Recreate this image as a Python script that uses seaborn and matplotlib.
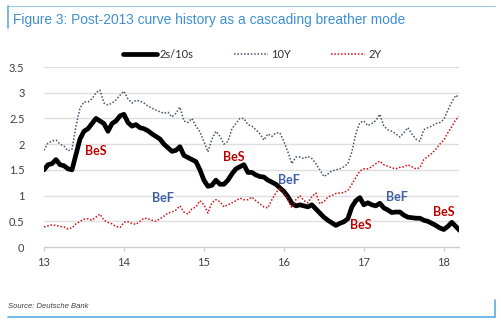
import numpy as np
import pandas as pd
import matplotlib
matplotlib.use("Agg")
import matplotlib.pyplot as plt
from matplotlib.lines import Line2D
import seaborn as sns

# Time axis in fractional years (13 = 2013)
years = np.round(np.arange(13.0, 18.2001, 0.05), 2)

spread_2s10s = [
    1.50, 1.60, 1.62, 1.70, 1.60, 1.58, 1.52, 1.50, 1.80, 2.10,
    2.25, 2.30, 2.40, 2.50, 2.45, 2.40, 2.25, 2.40, 2.45, 2.55,
    2.58, 2.42, 2.35, 2.38, 2.32, 2.30, 2.26, 2.20, 2.15, 2.10,
    2.00, 1.93, 1.86, 1.88, 1.95, 1.78, 1.74, 1.70, 1.66, 1.50,
    1.30, 1.18, 1.20, 1.30, 1.22, 1.22, 1.30, 1.42, 1.52, 1.56,
    1.60, 1.45, 1.45, 1.40, 1.37, 1.36, 1.30, 1.26, 1.22, 1.15,
    1.08, 0.98, 0.85, 0.80, 0.82, 0.80, 0.78, 0.82, 0.74, 0.66,
    0.58, 0.52, 0.47, 0.42, 0.46, 0.49, 0.55, 0.78, 0.90, 0.96,
    0.82, 0.86, 0.82, 0.80, 0.85, 0.76, 0.72, 0.67, 0.68, 0.68,
    0.62, 0.58, 0.57, 0.56, 0.56, 0.52, 0.50, 0.46, 0.42, 0.37,
    0.34, 0.40, 0.48, 0.40, 0.32,
]

yield_10y = [
    1.88, 2.02, 2.06, 2.08, 2.00, 1.96, 1.87, 1.90, 2.35, 2.70,
    2.82, 2.82, 2.88, 3.00, 3.05, 2.80, 2.76, 2.80, 2.86, 2.95,
    3.03, 2.88, 2.80, 2.85, 2.84, 2.80, 2.74, 2.70, 2.66, 2.63,
    2.60, 2.62, 2.53, 2.60, 2.72, 2.45, 2.42, 2.50, 2.35, 2.24,
    2.05, 1.85, 2.10, 2.25, 2.15, 2.00, 2.05, 2.30, 2.40, 2.50,
    2.50, 2.38, 2.35, 2.28, 2.20, 2.08, 2.20, 2.15, 2.22, 2.22,
    2.05, 1.85, 1.62, 1.75, 1.75, 1.72, 1.76, 1.72, 1.62, 1.50,
    1.37, 1.42, 1.48, 1.50, 1.52, 1.56, 1.62, 1.85, 2.20, 2.42,
    2.45, 2.36, 2.40, 2.46, 2.58, 2.35, 2.28, 2.25, 2.20, 2.14,
    2.22, 2.32, 2.20, 2.10, 2.06, 2.28, 2.32, 2.35, 2.40, 2.42,
    2.48, 2.66, 2.82, 2.95, 2.90,
]

yield_2y = [
    0.39, 0.41, 0.43, 0.42, 0.40, 0.39, 0.35, 0.37, 0.45, 0.50,
    0.54, 0.55, 0.52, 0.58, 0.64, 0.52, 0.48, 0.45, 0.40, 0.38,
    0.48, 0.49, 0.46, 0.44, 0.50, 0.56, 0.55, 0.52, 0.50, 0.55,
    0.60, 0.66, 0.68, 0.72, 0.80, 0.68, 0.64, 0.74, 0.78, 0.90,
    0.82, 0.66, 0.86, 0.92, 0.88, 0.78, 0.82, 0.86, 0.90, 0.95,
    0.92, 0.92, 0.97, 0.90, 0.84, 0.78, 0.76, 0.92, 1.05, 1.15,
    1.06, 0.92, 0.76, 0.92, 1.00, 0.90, 0.86, 0.98, 1.05, 0.84,
    0.88, 0.97, 1.00, 1.04, 1.05, 1.06, 1.10, 1.22, 1.35, 1.48,
    1.52, 1.52, 1.56, 1.62, 1.67, 1.60, 1.57, 1.54, 1.52, 1.55,
    1.56, 1.60, 1.56, 1.52, 1.54, 1.70, 1.76, 1.82, 1.90, 2.00,
    2.08, 2.22, 2.34, 2.48, 2.54,
]

# Regime annotations: (label, x, y)
regime_labels = ["BeS", "BeF", "BeS", "BeF", "BeS", "BeF", "BeS"]
regime_x = [13.65, 14.49, 15.37, 16.06, 16.96, 17.41, 18.0]
regime_y = [1.87, 0.95, 1.75, 1.30, 0.43, 0.97, 0.68]

x_ticks = [13, 14, 15, 16, 17, 18]
y_ticks = [0, 0.5, 1, 1.5, 2, 2.5, 3, 3.5]
y_tick_labels = ["0", "0.5", "1", "1.5", "2", "2.5", "3", "3.5"]

df = pd.DataFrame({"year": years, "2s/10s": spread_2s10s,
                   "10Y": yield_10y, "2Y": yield_2y})

sns.set_theme(style="white")
plt.rcParams["font.family"] = ["Lato", "DejaVu Sans"]

fig = plt.figure(figsize=(5.01, 3.28), dpi=100)
ax = fig.add_axes([44 / 501, 1 - 247 / 328, 415 / 501, 180 / 328])

grid_col = "#dedede"
for yv in y_ticks[1:]:
    ax.axhline(yv, color=grid_col, lw=1.0, zorder=0)

sns.lineplot(data=df, x="year", y="2s/10s", ax=ax, color="black", lw=3.4,
             label="2s/10s", zorder=3)
sns.lineplot(data=df, x="year", y="10Y", ax=ax, color="#44546a", lw=1.1,
             linestyle=(0, (1, 1.2)), label="10Y", zorder=4)
sns.lineplot(data=df, x="year", y="2Y", ax=ax, color="#d01010", lw=1.1,
             linestyle=(0, (1, 1.2)), label="2Y", zorder=5)

ax.set_xlim(13, 18.19)
ax.set_ylim(0, 3.5)
ax.set_xticks(x_ticks)
ax.set_xticklabels([str(t) for t in x_ticks])
ax.set_yticks(y_ticks)
ax.set_yticklabels(y_tick_labels)
ax.set_xlabel("")
ax.set_ylabel("")
for side in ["left", "right", "top"]:
    ax.spines[side].set_visible(False)
ax.spines["bottom"].set_color("#cfcfcf")
ax.spines["bottom"].set_linewidth(1.0)
ax.tick_params(axis="x", bottom=True, length=3, width=1, color="#cfcfcf",
               labelsize=8, labelcolor="#404040", pad=4)
ax.tick_params(axis="y", left=False, labelsize=8, labelcolor="#404040", pad=8)

for lab, xv, yv in zip(regime_labels, regime_x, regime_y):
    col = "#c00000" if lab == "BeS" else "#3f5fa8"
    ax.text(xv, yv, lab, color=col, fontsize=9, fontweight="bold",
            ha="center", va="center", zorder=6)

handles, labels = ax.get_legend_handles_labels()
ax.legend_.remove()
fig.legend(handles, labels, loc="center", bbox_to_anchor=(252 / 501, 1 - 54 / 328),
           ncol=3, frameon=False, fontsize=8, handlelength=3.1,
           columnspacing=3.6, handletextpad=0.25, labelcolor="#303030")

# Title and frame
fig.text(13 / 501, 1 - 20 / 328,
         "Figure 3: Post-2013 curve history as a cascading breather mode",
         color="#3d8fd1", fontsize=9.9, ha="left", va="center",
         family=["Liberation Sans", "DejaVu Sans"])
frame_col = "#5aaee0"
fig.add_artist(Line2D([8 / 501, 495 / 501], [1 - 6 / 328, 1 - 6 / 328],
                      color=frame_col, lw=0.8, alpha=0.6))
fig.add_artist(Line2D([8 / 501, 8 / 501], [1 - 6 / 328, 1 - 28 / 328],
                      color=frame_col, lw=1.2))
fig.add_artist(Line2D([8 / 501, 495 / 501], [1 - 317 / 328, 1 - 317 / 328],
                      color=frame_col, lw=1.2))
fig.add_artist(Line2D([495 / 501, 495 / 501], [1 - 300 / 328, 1 - 317 / 328],
                      color=frame_col, lw=1.2))
fig.text(8 / 501, 1 - 307 / 328, "Source: Deutsche Bank", color="#404040",
         fontsize=5.5, style="italic", ha="left", va="center",
         family=["Liberation Sans", "DejaVu Sans"])

fig.savefig("out.png", dpi=100)
